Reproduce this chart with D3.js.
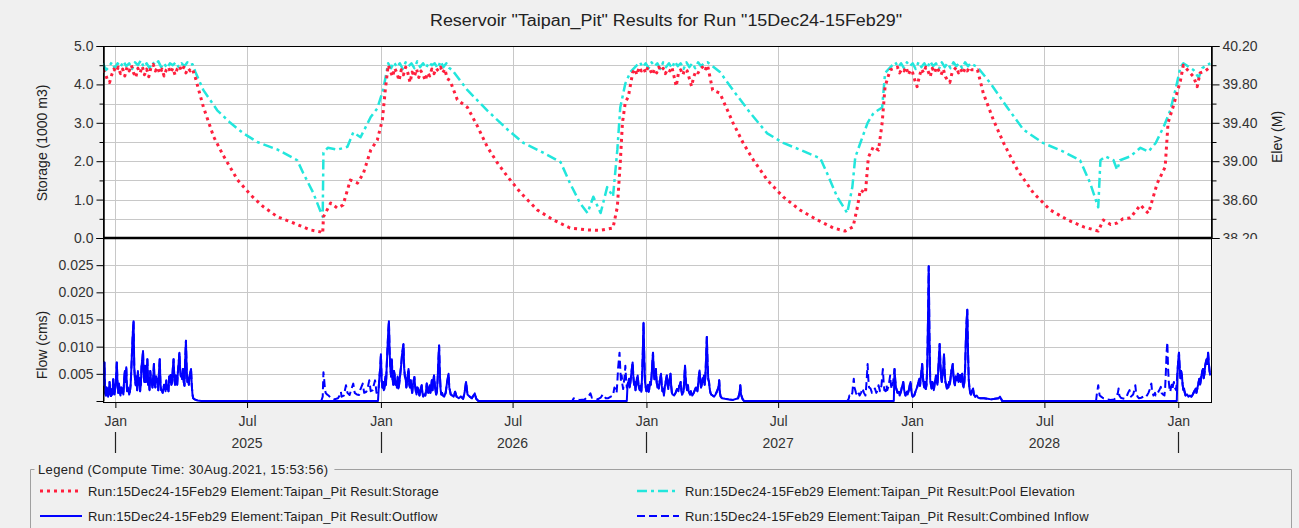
<!DOCTYPE html>
<html>
<head>
<meta charset="utf-8">
<script src="https://cdn.jsdelivr.net/npm/d3@7"></script>
<style>
  body { margin: 0; background: #f0f0f0; }
  svg { display: block; font-family: "Liberation Sans", Arial, sans-serif; }
  .tick text { fill: #333; font-size: 14px; }
</style>
</head>
<body>
<svg id="chart" width="1299" height="528"></svg>
<script>
// ---- data (day = days since 15Dec24) ----
var runStart = new Date(2024, 11, 15);
var runEnd = new Date(2029, 1, 15);

var storage = [
  [0,4.38],[3,4.3],[6,4.12],[9,4.05],[12,4.25],[15,4.4],[18,4.32],[21,4.45],[24,4.28],[27,4.4],[30,4.22],[33,4.45],
  [36,4.35],[39,4.5],[42,4.3],[45,4.18],[48,4.42],[51,4.3],[54,4.47],[57,4.25],[60,4.4],[63,4.2],[66,4.45],[69,4.52],
  [72,4.35],[75,4.45],[78,4.28],[81,4.4],[84,4.22],[87,4.38],[90,4.45],[93,4.3],[96,4.42],[99,4.25],[102,4.4],[105,4.48],
  [108,4.35],[111,4.45],[114,4.3],[117,4.42],[120,4.35],[123,4.4],
  [127,4.17],[138,3.41],[152,2.64],[165,2.16],[185,1.51],[203,1.12],[220,0.82],[240,0.55],[262,0.39],[285,0.21],[299,0.16],[302,0.12],
  [303,0.55],[313,0.91],[322,0.78],[330,0.86],[340,1.51],[350,1.43],[358,1.69],[368,2.29],[377,2.55],[384,3.07],[388,3.85],
  [392,4.5],[395,4.35],[398,4.2],[401,4.42],[404,4.3],[407,4.1],[410,4.38],[413,4.25],[416,4.45],[419,4.3],[422,4.05],[425,4.32],
  [428,4.2],[431,4.4],[434,4.18],[437,4.35],[440,4.25],[443,4.1],[446,4.3],[449,4.22],[452,4.4],[455,4.28],[458,4.42],[461,4.35],
  [464,4.45],[467,4.3],[470,4.4],[473,4.15],[477,4.1],
  [487,3.6],[501,3.4],[515,2.9],[528,2.38],[542,1.96],[556,1.6],[574,1.18],[597,0.73],[619,0.47],[642,0.26],[666,0.21],[684,0.2],
  [701,0.26],[707,0.81],[711,1.96],[714,3.0],[718,3.54],[722,3.67],
  [728,4.3],[731,4.4],[734,4.25],[737,4.45],[740,4.35],[743,4.42],[746,4.3],[749,4.45],[752,4.38],[755,4.25],[758,4.4],[761,4.3],
  [764,4.45],[767,4.35],[770,4.42],[773,4.28],[776,4.4],[779,4.35],[782,4.45],[785,4.2],[788,3.95],[791,4.3],[794,4.38],[797,4.25],
  [800,4.4],[803,4.35],[806,4.15],[809,3.95],[812,4.2],[815,4.35],[818,4.3],[821,4.4],[824,4.45],[827,4.35],[831,4.5],
  [838,3.85],[848,3.77],[866,3.0],[880,2.47],[894,2.03],[913,1.51],[935,1.07],[958,0.73],[982,0.47],[1004,0.26],[1020,0.18],
  [1031,0.29],[1037,0.81],[1041,1.25],[1048,1.17],[1052,2.1],[1059,2.38],[1066,2.29],[1071,3.0],[1075,3.94],[1082,4.38],
  [1092,4.45],[1095,4.3],[1098,4.4],[1101,4.35],[1104,4.45],[1107,4.25],[1110,4.38],[1113,4.3],[1116,4.1],[1119,3.94],[1122,4.2],
  [1125,4.4],[1128,4.3],[1131,4.45],[1134,4.35],[1137,4.2],[1140,4.42],[1143,4.3],[1146,4.45],[1149,4.35],[1152,4.25],[1155,4.4],
  [1158,4.2],[1161,4.1],[1164,4.05],[1167,4.3],[1170,4.38],[1173,4.45],[1176,4.3],[1179,4.4],[1182,4.28],[1185,4.42],[1188,4.35],
  [1191,4.45],[1194,4.38],[1202,4.38],
  [1210,3.77],[1224,3.07],[1238,2.47],[1257,1.77],[1279,1.17],[1302,0.73],[1326,0.47],[1348,0.29],[1368,0.18],[1375,0.47],
  [1385,0.35],[1394,0.39],[1402,0.5],[1412,0.52],[1426,0.86],[1437,0.64],[1449,1.42],[1460,1.85],[1464,3.0],[1471,3.42],
  [1481,4.1],[1485,4.5],[1499,4.2],[1504,3.94],[1508,4.3],[1515,4.35],[1522,4.45]
];

var poolElev = [
  [0,40.02],[4,39.95],[8,39.98],[12,40.03],[16,39.97],[20,40.02],[24,39.98],[28,40.04],[32,39.99],[36,40.02],[40,39.96],[44,40.03],
  [48,40.0],[52,40.05],[56,39.98],[60,40.02],[64,39.97],[68,40.03],[72,40.0],[76,40.04],[80,39.98],[84,40.02],[88,39.97],[92,40.02],
  [96,40.0],[100,40.03],[104,39.98],[108,40.02],[112,39.99],[116,40.03],[120,40.0],[123,40.01],
  [127,39.93],[138,39.74],[157,39.53],[175,39.4],[193,39.29],[212,39.2],[240,39.12],[267,39.01],[275,38.88],[289,38.67],[302,38.42],
  [303,39.09],[309,39.14],[322,39.12],[336,39.15],[344,39.3],[354,39.25],[368,39.46],[377,39.55],[385,39.74],
  [392,40.02],[396,39.97],[400,40.03],[404,39.98],[408,40.02],[412,39.96],[416,40.03],[420,39.99],[424,40.02],[428,39.97],[432,40.04],
  [436,39.98],[440,40.02],[444,39.97],[448,40.03],[452,40.0],[456,40.02],[460,39.97],[464,40.04],[468,39.98],[472,40.02],[476,39.97],
  [480,39.95],[501,39.74],[528,39.53],[556,39.33],[578,39.19],[605,39.09],[629,38.99],[642,38.77],[656,38.56],[666,38.46],
  [674,38.63],[684,38.46],[693,38.73],[701,38.63],[707,39.12],[711,39.56],[718,39.81],[725,39.93],
  [734,40.0],[738,40.03],[742,39.98],[746,40.02],[750,39.97],[754,40.03],[758,39.99],[762,40.02],[766,39.96],[770,40.03],[774,39.98],
  [778,40.02],[782,39.97],[786,40.04],[790,39.99],[794,40.02],[798,39.96],[802,40.03],[806,39.98],[810,40.02],[814,39.97],[818,40.03],
  [822,39.99],[826,40.02],[831,40.03],
  [848,39.93],[866,39.74],[890,39.5],[913,39.29],[935,39.19],[958,39.12],[986,39.03],[995,38.88],[1009,38.63],[1023,38.46],
  [1030,38.73],[1034,39.04],[1041,39.19],[1051,39.4],[1059,39.5],[1071,39.56],[1075,39.92],
  [1085,40.0],[1089,40.03],[1093,39.98],[1097,40.02],[1101,39.97],[1105,40.03],[1109,39.99],[1113,40.02],[1117,39.96],[1121,40.03],
  [1125,39.98],[1129,40.02],[1133,39.97],[1137,40.04],[1141,39.99],[1145,40.02],[1149,39.96],[1153,40.03],[1157,39.98],[1161,40.02],
  [1165,39.97],[1169,40.03],[1173,39.99],[1177,40.02],[1181,39.97],[1185,40.03],[1189,39.99],[1193,40.02],[1197,40.0],[1202,39.98],
  [1220,39.81],[1243,39.56],[1265,39.33],[1292,39.19],[1320,39.1],[1343,39.01],[1357,38.77],[1368,38.52],[1371,39.01],[1378,39.05],
  [1389,39.01],[1394,38.91],[1398,39.01],[1412,39.05],[1426,39.14],[1437,39.1],[1447,39.19],[1458,39.36],[1467,39.53],[1474,39.74],
  [1481,39.98],[1485,40.02],[1499,39.95],[1506,39.87],[1511,39.97],[1522,40.02]
];

// flows (cms). "spill" periods: pit full, outflow follows inflow.
// "fill" periods: inflow only, outflow stays at zero.
var spill1 = [
  [0,.0068],[1,.003],[2,.0071],[3,.0015],[4,.001],[5,.0025],[6,.002],[7,.0008],[8,.0012],[9,.0035],[10,.0017],[11,.0009],
  [12,.0022],[13,.0012],[14,.004],[15,.0018],[16,.0012],[17,.0028],[18,.0045],[19,.0071],[20,.003],[21,.0015],[22,.0032],
  [23,.0015],[24,.001],[25,.0025],[26,.0015],[27,.0023],[28,.0012],[29,.0038],[30,.0055],[31,.0035],[32,.0062],[33,.0018],
  [34,.0025],[35,.002],[36,.0012],[37,.0017],[38,.003],[39,.006],[40,.0095],[41,.0125],[42,.0147],[43,.006],[44,.004],[45,.0029],
  [46,.0045],[47,.002],[48,.0055],[49,.003],[50,.0042],[51,.0018],[52,.003],[53,.0065],[54,.0075],[55,.0092],[56,.0045],[57,.0035],
  [58,.0065],[59,.0035],[60,.005],[61,.0077],[62,.003],[63,.0041],[64,.002],[65,.0055],[66,.004],[67,.0035],[68,.0025],[69,.0042],
  [70,.0068],[71,.0029],[72,.0025],[73,.0045],[74,.0035],[75,.004],[76,.002],[77,.0055],[78,.0077],[79,.0032],[80,.002],[81,.002],
  [82,.0015],[83,.0023],[84,.003],[85,.0025],[86,.0018],[87,.0038],[88,.0022],[89,.0028],[90,.0018],[91,.0045],[92,.0035],
  [93,.0048],[94,.003],[95,.0035],[96,.006],[97,.0077],[98,.0045],[99,.003],[100,.0047],[101,.0035],[102,.003],[103,.0055],
  [104,.007],[105,.0089],[106,.006],[107,.0045],[108,.0047],[109,.004],[110,.0059],[111,.0035],[112,.0028],[113,.0075],[114,.0111],
  [115,.006],[116,.0035],[117,.0042],[118,.003],[119,.0045],[120,.0052],[121,.0059],[122,.003],[123,.0012],[124,.0005],[126,.0003],
  [130,.0001],[135,0]
];
var fill2 = [
  [300,0],[302,.0008],[303,.0053],[304,.004],[305,.0023],[306,.0015],[308,.0012],[310,.001],[313,.0006],[318,.0003],[323,.0005],
  [326,.0012],[327,.0017],[328,.0008],[331,.001],[334,.0029],[336,.0015],[339,.0011],[341,.002],[344,.0032],[346,.0015],[349,.0012],
  [352,.0011],[354,.0022],[357,.0032],[359,.0015],[362,.0017],[364,.0025],[366,.0038],[368,.0018],[371,.002],[372,.0028],
  [374,.0038],[376,.0015],[378,.0017]
];
var spill2 = [
  [379,.0025],[380,.0045],[381,.006],[382,.0086],[383,.004],[384,.0025],[385,.0035],[386,.002],[387,.0023],[388,.0045],[389,.003],
  [390,.0065],[391,.0095],[392,.0125],[393,.0147],[394,.009],[395,.006],[396,.0045],[397,.0077],[398,.004],[399,.003],[400,.0055],
  [401,.0047],[402,.003],[403,.0035],[404,.0025],[405,.0045],[406,.0023],[407,.003],[408,.0042],[409,.0055],[410,.0068],[411,.0085],
  [412,.0095],[413,.0105],[414,.006],[415,.0045],[416,.0041],[417,.0025],[418,.0035],[419,.0048],[420,.0059],[421,.003],[422,.0025],
  [423,.0038],[424,.0023],[425,.0015],[426,.003],[427,.0038],[428,.0044],[429,.0028],[430,.0018],[431,.0012],[432,.0025],[433,.0023],
  [434,.0015],[435,.001],[436,.0018],[437,.0025],[438,.0029],[439,.0015],[440,.0008],[441,.0012],[443,.001],[444,.0018],[445,.0032],
  [446,.002],[447,.0015],[448,.0022],[449,.0029],[450,.0015],[451,.0025],[452,.0038],[453,.002],[454,.0035],[455,.0047],[456,.0032],
  [457,.0018],[458,.0012],[459,.0017],[460,.004],[461,.0075],[462,.0102],[463,.005],[464,.0022],[465,.0012],[466,.0015],[467,.001],
  [469,.0008],[471,.0015],[473,.0035],[475,.005],[476,.0025],[478,.0012],[480,.001],[482,.0008],[484,.0017],[486,.0008],[489,.0005],
  [492,.0008],[495,.0004],[497,.0015],[499,.0035],[501,.0012],[504,.0008],[507,.0005],[511,.0014],[513,.0004],[516,0]
];
var fill3 = [
  [645,0],[647,.0005],[650,.0003],[655,.0002],[662,.0003],[667,.0008],[670,.0014],[672,.0006],[676,.0005],[680,.0003],[684,.0006],
  [687,.0012],[689,.001],[691,.0005],[694,.0005],[698,.0008],[701,.001],[703,.0025],[705,.002],[706,.0015],[707,.0035],[708,.006],
  [709,.0075],[710,.0089],[711,.006],[712,.0035],[713,.0047],[714,.003],[715,.0022],[716,.0035],[717,.0045],[718,.0065],[719,.004],
  [720,.0025]
];
var spill3 = [
  [721,.003],[722,.0035],[723,.0041],[724,.0025],[725,.0035],[726,.0048],[727,.006],[728,.0071],[729,.0045],[730,.003],[731,.0035],
  [732,.002],[733,.003],[734,.0042],[735,.0047],[736,.003],[737,.0022],[738,.002],[739,.0028],[740,.0017],[741,.0045],[742,.009],
  [743,.0144],[744,.008],[745,.0035],[746,.0025],[747,.0018],[748,.0025],[749,.003],[750,.0017],[751,.0022],[752,.0035],[753,.003],
  [754,.0045],[755,.0068],[756,.0089],[757,.0055],[758,.004],[759,.0048],[760,.0059],[761,.0035],[762,.0025],[763,.003],[764,.0023],
  [765,.0035],[766,.0042],[767,.005],[768,.0028],[769,.0018],[770,.0022],[771,.001],[772,.0025],[773,.0032],[774,.004],[775,.0047],
  [776,.003],[777,.0022],[778,.0035],[779,.0042],[780,.005],[781,.0028],[782,.0015],[783,.0012],[785,.001],[787,.0015],[789,.0022],
  [791,.0018],[792,.0028],[793,.003],[794,.0035],[795,.002],[796,.0012],[798,.0017],[799,.004],[800,.0065],[801,.004],[802,.0025],
  [803,.002],[804,.0029],[805,.0018],[807,.0012],[808,.0018],[810,.001],[812,.0015],[814,.0022],[815,.0025],[817,.0018],[818,.003],
  [819,.0045],[820,.0056],[821,.0035],[822,.0025],[823,.003],[824,.0042],[825,.0035],[826,.0047],[827,.003],[828,.0045],[829,.008],
  [830,.0118],[831,.007],[832,.004],[833,.0035],[834,.0022],[835,.0015],[836,.0012],[838,.001],[840,.0008],[842,.0012],[844,.0018],
  [846,.0025],[847,.0038],[848,.0015],[849,.0008],[851,.0005],[855,.0004],[860,.0003],[866,.0002],[873,.0005],[875,.0015],
  [876,.0029],[877,.0012],[879,.0004],[881,0]
];
var fill4 = [
  [1023,0],[1025,.0004],[1026,.001],[1028,.0008],[1030,.0015],[1031,.003],[1032,.0041],[1033,.0025],[1035,.0015],[1036,.0012],
  [1038,.0017],[1040,.001],[1042,.0015],[1044,.0023],[1046,.0015],[1048,.001],[1049,.0025],[1050,.0045],[1051,.0068],[1052,.004],
  [1053,.0025],[1055,.0023],[1057,.0015],[1059,.0018],[1061,.0023],[1063,.0015],[1065,.002],[1066,.0029],[1068,.0018],[1070,.0028],
  [1071,.0045],[1072,.0059],[1073,.0035],[1074,.002],[1076,.0018],[1077,.0029],[1078,.002],[1080,.0028],[1081,.0038],[1082,.0047],
  [1083,.003],[1084,.0022],[1086,.0035],[1087,.0045]
];
var spill4 = [
  [1088,.0059],[1089,.0038],[1090,.0025],[1091,.002],[1092,.0015],[1094,.0017],[1095,.001],[1097,.0018],[1098,.0025],[1099,.003],
  [1100,.0035],[1101,.0022],[1102,.0015],[1103,.001],[1105,.0017],[1106,.0012],[1108,.0022],[1109,.003],[1110,.0035],[1111,.002],
  [1112,.0012],[1113,.0008],[1115,.001],[1117,.0018],[1119,.0025],[1120,.003],[1121,.0035],[1122,.0041],[1123,.0028],[1124,.004],
  [1125,.0055],[1126,.0068],[1127,.0045],[1128,.003],[1129,.0025],[1130,.0035],[1131,.0022],[1132,.003],[1133,.0065],[1134,.015],
  [1135,.0248],[1136,.012],[1137,.004],[1138,.003],[1139,.0023],[1140,.0035],[1141,.0028],[1142,.002],[1143,.003],[1144,.004],
  [1145,.0047],[1146,.0035],[1147,.003],[1148,.0055],[1149,.008],[1150,.0105],[1151,.007],[1152,.0045],[1153,.0035],[1154,.0047],
  [1155,.006],[1156,.0086],[1157,.005],[1158,.0035],[1159,.003],[1160,.0023],[1161,.003],[1162,.0025],[1163,.0035],[1164,.003],
  [1165,.0042],[1166,.0055],[1167,.006],[1168,.0068],[1169,.0045],[1170,.0035],[1171,.0029],[1172,.0045],[1173,.0038],[1174,.0042],
  [1175,.005],[1176,.0035],[1177,.004],[1178,.0048],[1179,.0035],[1180,.0042],[1181,.005],[1182,.003],[1183,.0025],[1184,.0035],
  [1185,.006],[1186,.011],[1187,.0145],[1188,.0168],[1189,.009],[1190,.004],[1191,.0023],[1192,.0015],[1193,.0012],[1194,.0018],
  [1195,.002],[1196,.0023],[1197,.0012],[1199,.0008],[1201,.001],[1203,.0006],[1206,.0005],[1211,.0005],[1216,.0004],[1221,.0003],
  [1226,.0004],[1231,.0005],[1233,.0008],[1236,0]
];
var fill5 = [
  [1365,0],[1366,.0012],[1367,.002],[1368,.0029],[1369,.0018],[1370,.001],[1372,.0008],[1375,.0005],[1380,.0003],[1385,.0002],
  [1390,.0003],[1393,.0008],[1395,.0015],[1396,.0023],[1397,.001],[1399,.0006],[1401,.0005],[1404,.0004],[1407,.0008],[1409,.0015],
  [1411,.002],[1413,.0008],[1416,.0012],[1418,.0022],[1419,.0029],[1420,.0015],[1422,.0008],[1424,.0005],[1427,.0006],[1430,.0008],
  [1433,.0012],[1435,.001],[1437,.0015],[1439,.0022],[1440,.0028],[1441,.0032],[1442,.0018],[1444,.001],[1446,.0015],[1447,.001],
  [1449,.0012],[1451,.0018],[1452,.002],[1454,.0026],[1455,.0015],[1457,.0012],[1459,.001],[1460,.0025],[1461,.0055],[1462,.009],
  [1463,.0108],[1464,.006],[1465,.0035],[1466,.0022],[1467,.0017],[1468,.0025],[1469,.003],[1470,.0022],[1471,.003],[1472,.0035],
  [1473,.0025],[1475,.002],[1476,.0035]
];
var spill5 = [
  [1477,.0055],[1478,.0075],[1479,.0089],[1480,.006],[1481,.0042],[1482,.0055],[1483,.0047],[1484,.003],[1485,.002],[1486,.0023],
  [1487,.0015],[1488,.001],[1490,.0012],[1492,.0008],[1494,.001],[1496,.0008],[1498,.0012],[1500,.0018],[1502,.0023],[1503,.0015],
  [1505,.0028],[1506,.0035],[1507,.0041],[1508,.003],[1509,.0038],[1510,.0048],[1511,.0055],[1512,.0059],[1513,.0042],[1514,.005],
  [1515,.0065],[1516,.0072],[1517,.0077],[1518,.0068],[1519,.0089],[1520,.007],[1521,.0055],[1522,.0047]
];

var combinedInflow = [].concat(spill1, fill2, spill2, fill3, spill3, fill4, spill4, fill5, spill5);
var outflow = [].concat(spill1, [[378, 0]], spill2, [[720, 0]], spill3, [[1087, 0]], spill4, [[1476, 0]], spill5);

var storageTicks = [0, 1, 2, 3, 4, 5];
var elevTicks = [38.2, 38.6, 39.0, 39.4, 39.8, 40.2];
var flowTicks = [0.005, 0.010, 0.015, 0.020, 0.025];

var titleText = 'Reservoir "Taipan_Pit" Results for Run "15Dec24-15Feb29"';
var legendTitle = "Legend (Compute Time: 30Aug.2021, 15:53:56)";
var legendItems = [
  {name: "Run:15Dec24-15Feb29 Element:Taipan_Pit Result:Storage", key: "storage", col: 0, row: 0},
  {name: "Run:15Dec24-15Feb29 Element:Taipan_Pit Result:Pool Elevation", key: "elev", col: 1, row: 0},
  {name: "Run:15Dec24-15Feb29 Element:Taipan_Pit Result:Outflow", key: "outflow", col: 0, row: 1},
  {name: "Run:15Dec24-15Feb29 Element:Taipan_Pit Result:Combined Inflow", key: "inflow", col: 1, row: 1}
];

// ---- styles ----
var lineStyle = {
  storage: {stroke: "#ff1f3d", width: 3, dash: "3,4"},
  elev:    {stroke: "#22e6dc", width: 2.5, dash: "10,4,3,4"},
  outflow: {stroke: "#0000ff", width: 2, dash: null},
  inflow:  {stroke: "#0000ff", width: 2, dash: "8,4"}
};

var svg = d3.select("#chart");
var left = 103, right = 1211, top1 = 46, bot1 = 238, bot2 = 402;
var day = function(d) { return d3.timeDay.offset(runStart, d[0]); };

// Scales
var x = d3.scaleTime().domain([runStart, runEnd]).range([left, right]);
var yStor = d3.scaleLinear().domain([0, 5]).range([bot1, top1]);
var yElev = d3.scaleLinear().domain([38.2, 40.2]).range([bot1, top1]);
var yFlow = d3.scaleLinear().domain([0, 0.03]).range([bot2 - 1, bot1]);

// plot backgrounds
svg.append("rect").attr("x", left).attr("y", top1).attr("width", right - left).attr("height", bot2 - top1)
  .attr("fill", "#fff");

var defs = svg.append("defs");
defs.append("clipPath").attr("id", "topclip")
  .append("rect").attr("x", left).attr("y", top1).attr("width", right - left).attr("height", bot1 - top1);
defs.append("clipPath").attr("id", "botclip")
  .append("rect").attr("x", left).attr("y", bot1).attr("width", right - left).attr("height", bot2 - bot1 + 2);
defs.append("clipPath").attr("id", "rightclip")
  .append("rect").attr("x", right).attr("y", 30).attr("width", 60).attr("height", bot1 + 1 - 30);

// Gridlines
var grid = svg.append("g").attr("stroke", "#c8c8c8").attr("stroke-width", 1);
var monthTicks = x.ticks(d3.timeMonth.every(6));
grid.selectAll(".vg").data(monthTicks).enter().append("line")
  .attr("x1", d => Math.round(x(d)) + 0.5).attr("x2", d => Math.round(x(d)) + 0.5)
  .attr("y1", top1).attr("y2", bot2);
grid.selectAll(".hs").data(d3.range(0.5, 5, 0.5)).enter().append("line")
  .attr("x1", left).attr("x2", right)
  .attr("y1", d => Math.round(yStor(d)) + 0.5).attr("y2", d => Math.round(yStor(d)) + 0.5);
grid.selectAll(".hf").data(flowTicks).enter().append("line")
  .attr("x1", left).attr("x2", right)
  .attr("y1", d => Math.round(yFlow(d)) + 0.5).attr("y2", d => Math.round(yFlow(d)) + 0.5);

// Frames
svg.append("rect").attr("x", left + 0.5).attr("y", top1 + 0.5).attr("width", right - left).attr("height", bot2 - top1)
  .attr("fill", "none").attr("stroke", "#000");

// Series
function drawLine(data, yScale, st, clip) {
  var line = d3.line().x(d => x(day(d))).y(d => yScale(d[1]));
  svg.append("path").datum(data)
    .attr("clip-path", "url(#" + clip + ")")
    .attr("fill", "none")
    .attr("stroke", st.stroke)
    .attr("stroke-width", st.width)
    .attr("stroke-dasharray", st.dash)
    .attr("stroke-linejoin", "round")
    .attr("d", line);
}
drawLine(poolElev, yElev, lineStyle.elev, "topclip");
drawLine(storage, yStor, lineStyle.storage, "topclip");
drawLine(combinedInflow, yFlow, lineStyle.inflow, "botclip");
drawLine(outflow, yFlow, lineStyle.outflow, "botclip");

svg.append("line").attr("x1", left).attr("x2", right + 1).attr("y1", bot1).attr("y2", bot1)
  .attr("stroke", "#000").attr("stroke-width", 2.5);

// Axes
svg.append("g").attr("transform", "translate(" + (left + 0.5) + ",0)")
  .call(d3.axisLeft(yStor).tickValues(storageTicks).tickFormat(d3.format(".1f")).tickSize(7).tickPadding(3));
svg.append("g").attr("transform", "translate(" + (left + 0.5) + ",0)")
  .call(d3.axisLeft(yStor).tickValues(d3.range(0.5, 5, 1)).tickFormat("").tickSize(4));

svg.append("g").attr("clip-path", "url(#rightclip)").append("g")
  .attr("transform", "translate(" + (right + 0.5) + ",0)")
  .call(d3.axisRight(yElev).tickValues(elevTicks).tickFormat(d3.format(".2f")).tickSize(8).tickPadding(3));
svg.append("g").attr("transform", "translate(" + (right + 0.5) + ",0)")
  .call(d3.axisRight(yElev).tickValues([38.4, 38.8, 39.2, 39.6, 40.0]).tickFormat("").tickSize(5));

svg.append("g").attr("transform", "translate(" + (left + 0.5) + ",0)")
  .call(d3.axisLeft(yFlow).tickValues(flowTicks).tickFormat(d3.format(".3f")).tickSize(7).tickPadding(3));

svg.append("g").attr("transform", "translate(0," + bot2 + ")")
  .call(d3.axisBottom(x).tickValues(monthTicks).tickFormat(d3.timeFormat("%b")).tickSize(6).tickPadding(8))
  .select(".domain").remove();

// year row
var jans = monthTicks.filter(d => d.getMonth() === 0);
var juls = monthTicks.filter(d => d.getMonth() === 6);
svg.append("g").selectAll("line").data(jans).enter().append("line")
  .attr("x1", d => Math.round(x(d)) + 0.5).attr("x2", d => Math.round(x(d)) + 0.5)
  .attr("y1", 432).attr("y2", 453).attr("stroke", "#222").attr("stroke-width", 1.2);
svg.append("g").selectAll("text").data(juls).enter().append("text")
  .attr("x", d => x(d)).attr("y", 448).attr("text-anchor", "middle")
  .attr("font-size", 14).attr("fill", "#333")
  .text(d => d3.timeFormat("%Y")(d));

svg.selectAll(".domain").attr("stroke", "#000");
svg.selectAll(".tick line").attr("stroke", "#000");

// Axis titles
svg.append("text").attr("transform", "translate(47,143) rotate(-90)").attr("text-anchor", "middle")
  .attr("font-size", 14).attr("fill", "#222").text("Storage (1000 m3)");
svg.append("text").attr("transform", "translate(1282,137) rotate(-90)").attr("text-anchor", "middle")
  .attr("font-size", 14).attr("fill", "#222").text("Elev (M)");
svg.append("text").attr("transform", "translate(47,345) rotate(-90)").attr("text-anchor", "middle")
  .attr("font-size", 14).attr("fill", "#222").text("Flow (cms)");

// Title
svg.append("text").attr("x", 666).attr("y", 26).attr("text-anchor", "middle")
  .attr("font-size", 16).attr("fill", "#222")
  .attr("textLength", 472).attr("lengthAdjust", "spacingAndGlyphs")
  .text(titleText);

// Legend
var lg = svg.append("g");
var lt = lg.append("text").attr("x", 38).attr("y", 474).attr("font-size", 13).attr("letter-spacing", 0.35)
  .attr("fill", "#222").text(legendTitle);
var ltw = lt.node().getComputedTextLength();
lg.append("path").attr("d", "M34.5,469.5 H30.5 V528 M" + (38 + ltw + 6) + ",469.5 H1291.5 V528")
  .attr("fill", "none").attr("stroke", "#a0a0a0");
var colX = [40, 637], rowY = [491, 516];
legendItems.forEach(function(it) {
  var st = lineStyle[it.key];
  var x0 = colX[it.col], y0 = rowY[it.row];
  lg.append("line").attr("x1", x0).attr("x2", x0 + 42).attr("y1", y0).attr("y2", y0)
    .attr("stroke", st.stroke).attr("stroke-width", st.width).attr("stroke-dasharray", st.dash);
  lg.append("text").attr("x", x0 + 48).attr("y", y0 + 4.5).attr("font-size", 13).attr("letter-spacing", 0.2)
    .attr("fill", "#222").text(it.name);
});
</script>
</body>
</html>
